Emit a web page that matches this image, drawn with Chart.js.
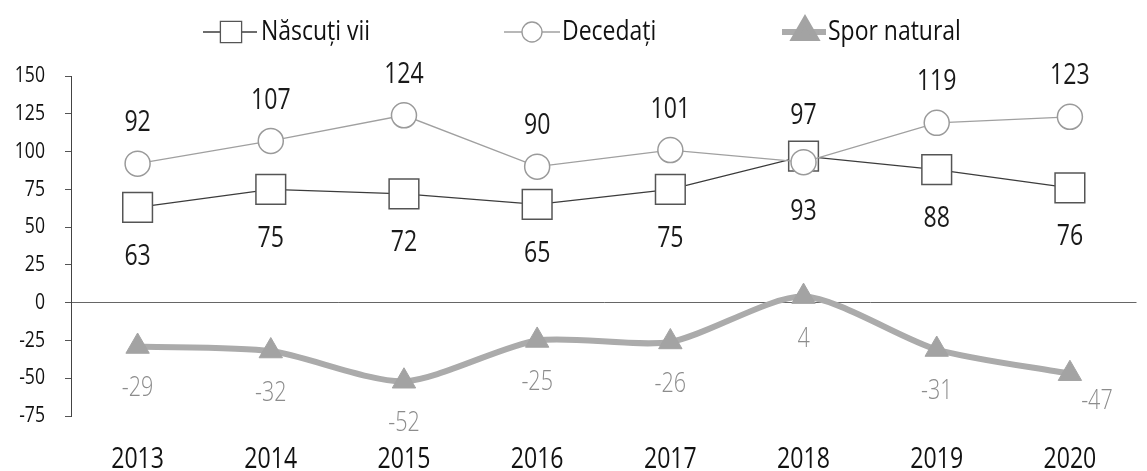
<!DOCTYPE html>
<html>
<head>
<meta charset="utf-8">
<script src="https://cdn.jsdelivr.net/npm/chart.js@4.4.1/dist/chart.umd.min.js"></script>
<style>
  html, body { margin: 0; padding: 0; background: #fff; overflow: hidden; }
  #chart { display: block; }
</style>
</head>
<body>
<canvas id="chart" width="1159" height="471"></canvas>
<script>
var years = ["2013", "2014", "2015", "2016", "2017", "2018", "2019", "2020"];
var nascutiVii = [63, 75, 72, 65, 75, 97, 88, 76];
var decedati = [92, 107, 124, 90, 101, 93, 119, 123];
var sporNatural = [-29, -32, -52, -25, -26, 4, -31, -47];
var yTicks = [150, 125, 100, 75, 50, 25, 0, -25, -50, -75];
var seriesNames = ["Născuți vii", "Decedați", "Spor natural"];

var fontFamily = "'Open Sans', 'Noto Sans', sans-serif";

// the original uses a narrow face, so text is squeezed sideways
function narrowText(ctx, text, x, y, align, font, color, squeeze) {
  ctx.save();
  ctx.font = font;
  ctx.fillStyle = color;
  ctx.textAlign = align;
  ctx.textBaseline = "middle";
  ctx.translate(x, y);
  ctx.scale(squeeze, 1);
  ctx.fillText(text, 0, 0);
  ctx.restore();
}

var axisLabels = {
  id: "axisLabels",
  afterDraw: function(chart) {
    var ctx = chart.ctx;
    var xs = chart.scales.x, ys = chart.scales.y;
    xs.ticks.forEach(function(t, i) {
      narrowText(ctx, years[i], xs.getPixelForTick(i), 459, "center", "30px " + fontFamily, "#111", 0.77);
    });
    ys.ticks.forEach(function(t) {
      narrowText(ctx, String(t.value), 45, ys.getPixelForValue(t.value), "right", "22px " + fontFamily, "#111", 0.8);
    });
  }
};

var valueLabels = {
  id: "valueLabels",
  afterDatasetsDraw: function(chart) {
    var ctx = chart.ctx;
    chart.data.datasets.forEach(function(ds, d) {
      var meta = chart.getDatasetMeta(d);
      meta.data.forEach(function(pt, i) {
        var v = ds.data[i];
        var x = pt.x, y = pt.y;
        if (d === 2) {
          if (i === ds.data.length - 1) { x += 27; y += 27; } else { y += 42; }
          narrowText(ctx, String(v), x, y, "center", "300 28px " + fontFamily, "#8c8c8c", 0.77);
        } else {
          var other = d === 0 ? decedati[i] : nascutiVii[i];
          y = v >= other ? y - 41 : y + 49;
          narrowText(ctx, String(v), x, y, "center", "30px " + fontFamily, "#1a1a1a", 0.77);
        }
      });
    });
  }
};

var sideLegend = {
  id: "sideLegend",
  afterDraw: function(chart) {
    var ctx = chart.ctx;
    var items = [
      { from: 203, to: 257, mark: 231, text: 261, radius: 15 },
      { from: 504, to: 560, mark: 532, text: 562, radius: 10 },
      { from: 782, to: 826, mark: 805, text: 828, radius: 12 }
    ];
    var y = 32;
    items.forEach(function(it, d) {
      var ds = chart.data.datasets[d];
      ctx.save();
      ctx.strokeStyle = ds.borderColor;
      ctx.lineWidth = ds.borderWidth;
      ctx.beginPath();
      ctx.moveTo(it.from, y);
      ctx.lineTo(it.to, y);
      ctx.stroke();
      ctx.fillStyle = ds.pointBackgroundColor;
      ctx.strokeStyle = ds.pointBorderColor;
      Chart.helpers.drawPoint(ctx, {
        pointStyle: ds.pointStyle,
        radius: it.radius,
        rotation: 0,
        borderWidth: ds.pointBorderWidth
      }, it.mark, y);
      ctx.restore();
      narrowText(ctx, seriesNames[d], it.text, y, "left", "28px " + fontFamily, "#111", 0.82);
    });
  }
};

var ctx = document.getElementById("chart").getContext("2d");

var myChart = new Chart(ctx, {
  type: "line",
  data: {
    labels: years,
    datasets: [{
      label: seriesNames[0],
      data: nascutiVii,
      order: 1,
      borderColor: "#3c3c3c",
      borderWidth: 1.3,
      pointStyle: "rect",
      pointRadius: 21,
      pointBackgroundColor: "#ffffff",
      pointBorderColor: "#555555",
      pointBorderWidth: 1.5,
      tension: 0
    }, {
      label: seriesNames[1],
      data: decedati,
      order: 0,
      borderColor: "#a0a0a0",
      borderWidth: 1.3,
      pointStyle: "circle",
      pointRadius: 12.5,
      pointBackgroundColor: "#ffffff",
      pointBorderColor: "#9a9a9a",
      pointBorderWidth: 1.5,
      tension: 0
    }, {
      label: seriesNames[2],
      data: sporNatural,
      order: 2,
      borderColor: "#ababab",
      borderWidth: 6,
      pointStyle: "triangle",
      pointRadius: 13.5,
      pointBackgroundColor: "#a3a3a3",
      pointBorderColor: "#a3a3a3",
      pointBorderWidth: 1,
      tension: 0.25
    }]
  },
  options: {
    responsive: false,
    animation: false,
    devicePixelRatio: 1,
    layout: { padding: { top: 76, right: 0, bottom: 0, left: 0 } },
    plugins: {
      legend: { display: false },
      tooltip: { enabled: false }
    },
    scales: {
      x: {
        offset: true,
        grid: { display: false, drawTicks: false },
        border: { display: false },
        ticks: { display: false },
        afterFit: function(scale) { scale.height = 55; }
      },
      y: {
        min: -75,
        max: 150,
        afterBuildTicks: function(scale) {
          scale.ticks = yTicks.map(function(v) { return { value: v }; });
        },
        afterFit: function(scale) { scale.width = 71; },
        border: { display: true, color: "#444", width: 1 },
        grid: {
          drawTicks: true,
          tickLength: 6,
          tickColor: "#555",
          color: function(c) { return c.tick && c.tick.value === 0 ? "#666" : "rgba(0,0,0,0)"; },
          lineWidth: 1
        },
        ticks: { display: false }
      }
    }
  },
  plugins: [valueLabels, axisLabels, sideLegend]
});
</script>
</body>
</html>
